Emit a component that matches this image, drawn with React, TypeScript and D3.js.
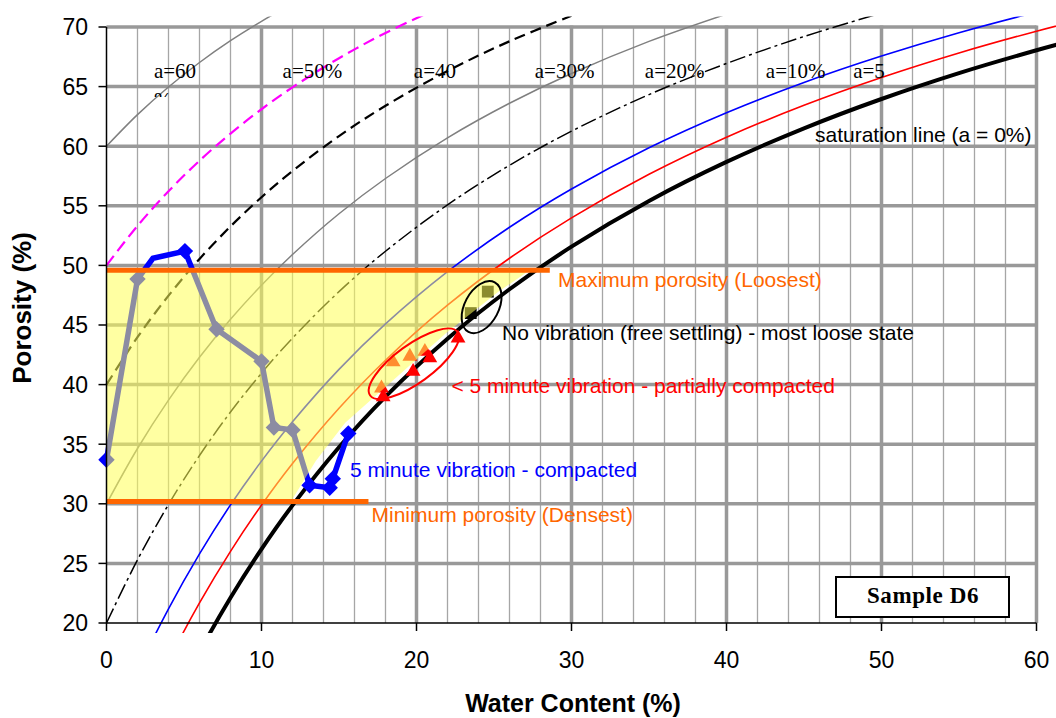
import React from 'react';
import * as d3 from 'd3';

const WIDTH = 1056;
const HEIGHT = 718;

// Water content (%) at which the air-content curves are tabulated
const waterSteps = [0, 2, 4, 6, 8, 10, 12, 15, 18, 22, 26, 30, 35, 40, 45, 50, 55, 60, 62];

// Porosity (%) along each constant air-content curve
const porosityA0 = [0, 6.63, 12.43, 17.56, 22.12, 26.2, 29.87, 34.75, 38.99, 43.85, 48.0, 51.57, 55.41, 58.68, 61.5, 63.96, 66.13, 68.05, 68.76];
const porosityA5 = [5, 11.3, 16.81, 21.68, 26.01, 29.89, 33.38, 38.01, 42.04, 46.66, 50.6, 53.99, 57.64, 60.75, 63.43, 65.76, 67.82, 69.65, 70.32];
const porosityA10 = [10, 15.97, 21.19, 25.8, 29.91, 33.58, 36.88, 41.28, 45.09, 49.47, 53.2, 56.41, 59.87, 62.81, 65.35, 67.56, 69.52, 71.25, 71.88];
const porosityA20 = [20, 25.3, 29.94, 34.05, 37.7, 40.96, 43.9, 47.8, 51.19, 55.08, 58.4, 61.26, 64.33, 66.94, 69.2, 71.17];
const porosityA30 = [30, 34.64, 38.7, 42.29, 45.48, 48.34, 50.91, 54.33, 57.29, 60.7, 63.6, 66.1, 68.79, 71.08];
const porosityA40 = [40, 43.98, 47.46, 50.54, 53.27, 55.72, 57.92, 60.85, 63.39, 66.31, 68.8, 70.94];
const porosityA50 = [50, 53.32, 56.22, 58.78, 61.06, 63.1, 64.94, 67.38, 69.5, 71.93];
const porosityA60 = [60, 62.65, 64.97, 67.02, 68.85, 70.48, 71.95];

// Curve labels along the top of the chart
const curveLabels = ['a=60', 'a=50%', 'a=40', 'a=30%', 'a=20%', 'a=10%', 'a=5'];
const curveLabelWater = [3.06, 11.36, 19.83, 27.63, 34.73, 42.54, 48.17];
const curveLabelPorosity = 65.73;

// 5 minute vibration (compacted) test points
const fiveMinWater = [0, 2.0, 3.0, 5.06, 7.1, 10.0, 10.8, 12.0, 13.1, 14.4, 14.6, 15.6];
const fiveMinPorosity = [33.7, 48.85, 50.6, 51.2, 44.65, 41.95, 36.4, 36.2, 31.55, 31.35, 32.1, 35.9];
const fiveMinMarked = [true, true, false, true, true, true, true, true, true, true, true, true];

// < 5 minute vibration (partially compacted) test points
const partialWater = [17.74, 17.85, 18.49, 19.57, 19.78, 20.54, 20.86, 22.68];
const partialPorosity = [39.7, 38.96, 41.89, 42.37, 41.1, 42.78, 42.23, 43.9];

// No vibration (free settling) test points
const looseWater = [23.5, 24.6];
const loosePorosity = [46.0, 47.8];

// Porosity limits
const maxPorosity = 49.6;
const maxPorosityEnd = 28.6;
const minPorosity = 30.2;
const minPorosityEnd = 16.9;

// Right boundary of the shaded range between the porosity limits
const rangeEdgeWater = [27.3, 25.3, 21.9, 18.6, 15.4, 13.5, 11.9];
const rangeEdgePorosity = [49.6, 47.8, 44.3, 40.5, 36.8, 33.6, 30.2];

const xTicks = [0, 10, 20, 30, 40, 50, 60];
const yTicks = [20, 25, 30, 35, 40, 45, 50, 55, 60, 65, 70];

const SANS = '"Liberation Sans", Arial, sans-serif';
const SERIF = '"Liberation Serif", "Times New Roman", serif';

export default function App() {
  const x = d3.scaleLinear().domain([0, 60]).range([106.5, 1036.5]);
  const y = d3.scaleLinear().domain([20, 70]).range([623, 27]);

  const line = d3
    .line<[number, number]>()
    .x((d) => x(d[0]))
    .y((d) => y(d[1]))
    .curve(d3.curveCatmullRom);

  const straight = d3
    .line<[number, number]>()
    .x((d) => x(d[0]))
    .y((d) => y(d[1]));

  const pairs = (ps: number[]): [number, number][] => ps.map((p, i) => [waterSteps[i], p]);

  const curves = [
    { id: 'a60', pts: porosityA60, stroke: '#808080', width: 1.5, dash: undefined },
    { id: 'a50', pts: porosityA50, stroke: '#ff00ff', width: 2.2, dash: '12,6' },
    { id: 'a40', pts: porosityA40, stroke: '#000000', width: 2.2, dash: '11,6' },
    { id: 'a30', pts: porosityA30, stroke: '#808080', width: 1.5, dash: undefined },
    { id: 'a20', pts: porosityA20, stroke: '#000000', width: 1.5, dash: '16,4,3,4' },
    { id: 'a10', pts: porosityA10, stroke: '#0000ff', width: 1.6, dash: undefined },
    { id: 'a5', pts: porosityA5, stroke: '#ff0000', width: 1.6, dash: undefined },
    { id: 'a0', pts: porosityA0, stroke: '#000000', width: 4, dash: undefined },
  ];

  const minorX = d3.range(2, 60, 2).filter((v) => v % 10 !== 0);
  const majorX = [10, 20, 30, 40, 50, 60];
  const gridY = yTicks.filter((v) => v > 20);

  const fiveMinPts: [number, number][] = fiveMinWater.map((w, i) => [w, fiveMinPorosity[i]]);

  const rangePoly: [number, number][] = [
    [0, maxPorosity],
    ...rangeEdgeWater.map((w, i) => [w, rangeEdgePorosity[i]] as [number, number]),
    [0, minPorosity],
  ];

  const diamond = d3.symbol(d3.symbolSquare, 135)();
  const triangle = d3.symbol(d3.symbolTriangle, 95)();
  const square = d3.symbol(d3.symbolSquare, 140)();

  const redCx = x(19.83);
  const redCy = y(41.75);
  const blackCx = x(24.2);
  const blackCy = y(46.5);

  return (
    <svg
      width={WIDTH}
      height={HEIGHT}
      style={{ position: 'absolute', left: 0, top: 0, background: '#ffffff' }}
    >
      <defs>
        <clipPath id="curveClip">
          <rect x={97} y={16.5} width={WIDTH - 97} height={633 - 16.5} />
        </clipPath>
        <clipPath id="pctClip">
          <rect x={140} y={88} width={40} height={9} />
        </clipPath>
      </defs>
      <rect x={0} y={0} width={WIDTH} height={HEIGHT} fill="#ffffff" />

      {/* grid */}
      <g>
        {minorX.map((v) => (
          <line key={'mx' + v} x1={x(v)} x2={x(v)} y1={y(70)} y2={y(20)} stroke="#a6a6a6" strokeWidth={1.3} />
        ))}
        {gridY.map((v) => (
          <line key={'gy' + v} x1={x(0)} x2={x(60)} y1={y(v)} y2={y(v)} stroke="#999999" strokeWidth={3.5} />
        ))}
        {majorX.map((v) => (
          <line key={'gx' + v} x1={x(v)} x2={x(v)} y1={y(70) - 1.5} y2={y(20)} stroke="#999999" strokeWidth={3.5} />
        ))}
      </g>

      {/* constant air-content curves */}
      <g clipPath="url(#curveClip)" fill="none">
        {curves.map((c) => (
          <path
            key={c.id}
            d={line(pairs(c.pts)) || ''}
            stroke={c.stroke}
            strokeWidth={c.width}
            strokeDasharray={c.dash}
            strokeLinejoin="round"
          />
        ))}
      </g>

      {/* test results */}
      <g>
        <path d={straight(fiveMinPts) || ''} fill="none" stroke="#0000ff" strokeWidth={5.5} strokeLinejoin="round" />
        {fiveMinPts.map((p, i) =>
          fiveMinMarked[i] ? (
            <path key={'d' + i} d={diamond || ''} transform={`translate(${x(p[0])},${y(p[1])}) rotate(45)`} fill="#0000ff" />
          ) : null
        )}
        {partialWater.map((w, i) => (
          <path key={'t' + i} d={triangle || ''} transform={`translate(${x(w)},${y(partialPorosity[i])})`} fill="#ff0000" />
        ))}
        {looseWater.map((w, i) => (
          <path key={'s' + i} d={square || ''} transform={`translate(${x(w)},${y(loosePorosity[i])})`} fill="#000000" />
        ))}
      </g>

      {/* shaded range between minimum and maximum porosity */}
      <path d={straight(rangePoly) + 'Z'} fill="#ffff55" fillOpacity={0.55} stroke="none" />

      {/* porosity limits */}
      <line x1={x(0)} x2={x(maxPorosityEnd)} y1={y(maxPorosity)} y2={y(maxPorosity)} stroke="#ff6600" strokeWidth={5} />
      <line x1={x(0)} x2={x(minPorosityEnd)} y1={y(minPorosity)} y2={y(minPorosity)} stroke="#ff6600" strokeWidth={5} />

      {/* groupings */}
      <ellipse cx={redCx} cy={redCy} rx={54} ry={19} transform={`rotate(-36 ${redCx} ${redCy})`} fill="none" stroke="#ff0000" strokeWidth={2} />
      <ellipse cx={blackCx} cy={blackCy} rx={28} ry={17} transform={`rotate(-62 ${blackCx} ${blackCy})`} fill="none" stroke="#000000" strokeWidth={2} />

      {/* axes */}
      <g stroke="#000000" strokeWidth={1.5}>
        <line x1={x(0)} x2={x(0)} y1={y(70)} y2={y(20)} />
        <line x1={x(0)} x2={x(60)} y1={y(20)} y2={y(20)} />
        {yTicks.map((v) => (
          <line key={'yt' + v} x1={x(0) - 8} x2={x(0)} y1={y(v)} y2={y(v)} />
        ))}
        {xTicks.map((v) => (
          <line key={'xt' + v} x1={x(v)} x2={x(v)} y1={y(20)} y2={y(20) + 8} />
        ))}
      </g>
      <g fontFamily={SANS} fontSize={23} fill="#000000">
        {yTicks.map((v) => (
          <text key={'yl' + v} x={88} y={y(v) + 8.3} textAnchor="end">
            {v}
          </text>
        ))}
        {xTicks.map((v) => (
          <text key={'xl' + v} x={x(v)} y={668} textAnchor="middle">
            {v}
          </text>
        ))}
      </g>
      <text x={573} y={712} textAnchor="middle" fontFamily={SANS} fontWeight="bold" fontSize={25}>
        Water Content (%)
      </text>
      <text
        transform="translate(31,308) rotate(-90)"
        textAnchor="middle"
        fontFamily={SANS}
        fontWeight="bold"
        fontSize={26}
      >
        Porosity (%)
      </text>

      {/* curve labels */}
      <g fontFamily={SERIF} fontSize={21} fill="#000000">
        {curveLabels.map((t, i) => (
          <text key={t} x={x(curveLabelWater[i])} y={y(curveLabelPorosity)}>
            {t}
          </text>
        ))}
        <text x={x(curveLabelWater[0])} y={y(curveLabelPorosity) + 29} clipPath="url(#pctClip)">
          %
        </text>
      </g>

      {/* annotations */}
      <g fontFamily={SANS} fontSize={21}>
        <text x={815} y={141.5} fill="#000000">saturation line (a = 0%)</text>
        <text x={558} y={287} fill="#ff6600">Maximum porosity (Loosest)</text>
        <text x={502} y={340} fill="#000000">No vibration (free settling) - most loose state</text>
        <text x={451.5} y={393} fill="#ff0000">&lt; 5 minute vibration - partially compacted</text>
        <text x={350} y={476.5} fill="#0000ff">5 minute vibration - compacted</text>
        <text x={371.5} y={522} fill="#ff6600">Minimum porosity (Densest)</text>
      </g>

      {/* sample tag */}
      <rect x={836} y={577} width={173} height={40} fill="#ffffff" stroke="#000000" strokeWidth={2} />
      <text
        x={923}
        y={603}
        textAnchor="middle"
        fontFamily={SERIF}
        fontWeight="bold"
        fontSize={23}
        letterSpacing={0.6}
      >
        Sample D6
      </text>
    </svg>
  );
}
